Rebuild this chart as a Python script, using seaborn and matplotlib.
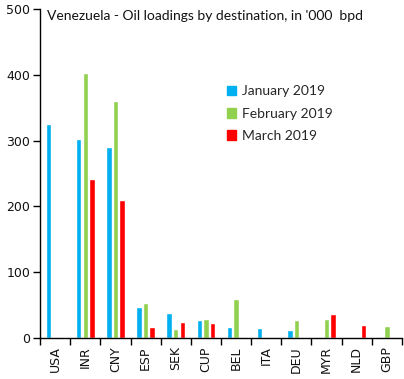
import numpy as np
import pandas as pd
import matplotlib.pyplot as plt
import seaborn as sns

# ---------------------------------------------------------------
# Data (thousand barrels per day)
# ---------------------------------------------------------------
countries = ["USA", "INR", "CNY", "ESP", "SEK", "CUP", "BEL", "ITA", "DEU", "MYR", "NLD", "GBP"]
months = ["January 2019", "February 2019", "March 2019"]
jan = [325, 302, 290, 47, 38, 27, 17, 15, 12, 0, 0, 0]
feb = [0, 403, 360, 53, 14, 29, 59, 0, 27, 29, 0, 18]
mar = [0, 242, 210, 17, 24, 23, 0, 0, 0, 36, 20, 0]
colors = ["#00B0F0", "#92D050", "#FF0000"]

df = pd.DataFrame({"country": countries * 3,
                   "month": np.repeat(months, len(countries)),
                   "bpd": jan + feb + mar})

sns.set_style("white")
fig = plt.figure(figsize=(4.04, 3.79), dpi=100)
ax = fig.add_axes([40 / 404, 1 - 338 / 379, 362 / 404, 329 / 379])

sns.barplot(data=df, x="country", y="bpd", hue="month", palette=colors,
            width=0.66, gap=0.18, saturation=1, ax=ax, legend=False)

ax.set_ylim(0, 500)
ax.set_xlim(-0.5, len(countries) - 0.5)
ax.set_yticks(range(0, 501, 100))
ax.set_xlabel("")
ax.set_ylabel("")

for s in ["top", "right"]:
    ax.spines[s].set_visible(False)
for s in ["left", "bottom"]:
    ax.spines[s].set_color("black")
    ax.spines[s].set_linewidth(1)

ax.tick_params(axis="y", direction="out", length=5, width=1, color="black",
               labelsize=9, labelcolor="#111111", pad=2, left=True)
ax.tick_params(axis="x", which="major", length=0, labelsize=9,
               labelcolor="#111111", labelrotation=90, pad=6)
ax.set_xticks(np.arange(-0.5, len(countries)), minor=True)
ax.tick_params(axis="x", which="minor", direction="out", length=5, width=1,
               color="black", bottom=True)
for lbl in ax.get_xticklabels() + ax.get_yticklabels():
    lbl.set_family("DejaVu Sans")

ax.text(0.019, 0.979, "Venezuela - Oil loadings by destination, in '000  bpd",
        transform=ax.transAxes, ha="left", va="center", fontsize=10,
        family="Lato", color="#111111")

handles = [plt.Rectangle((0, 0), 1, 1, color=c) for c in colors]
ax.legend(handles, months, loc="upper left", bbox_to_anchor=(0.5, 0.785),
          frameon=False, prop={"family": "Lato", "size": 10},
          handlelength=0.7, handleheight=0.7, handletextpad=0.4,
          labelspacing=0.75, borderaxespad=0)

plt.savefig("out.png", dpi=100)
plt.close()
